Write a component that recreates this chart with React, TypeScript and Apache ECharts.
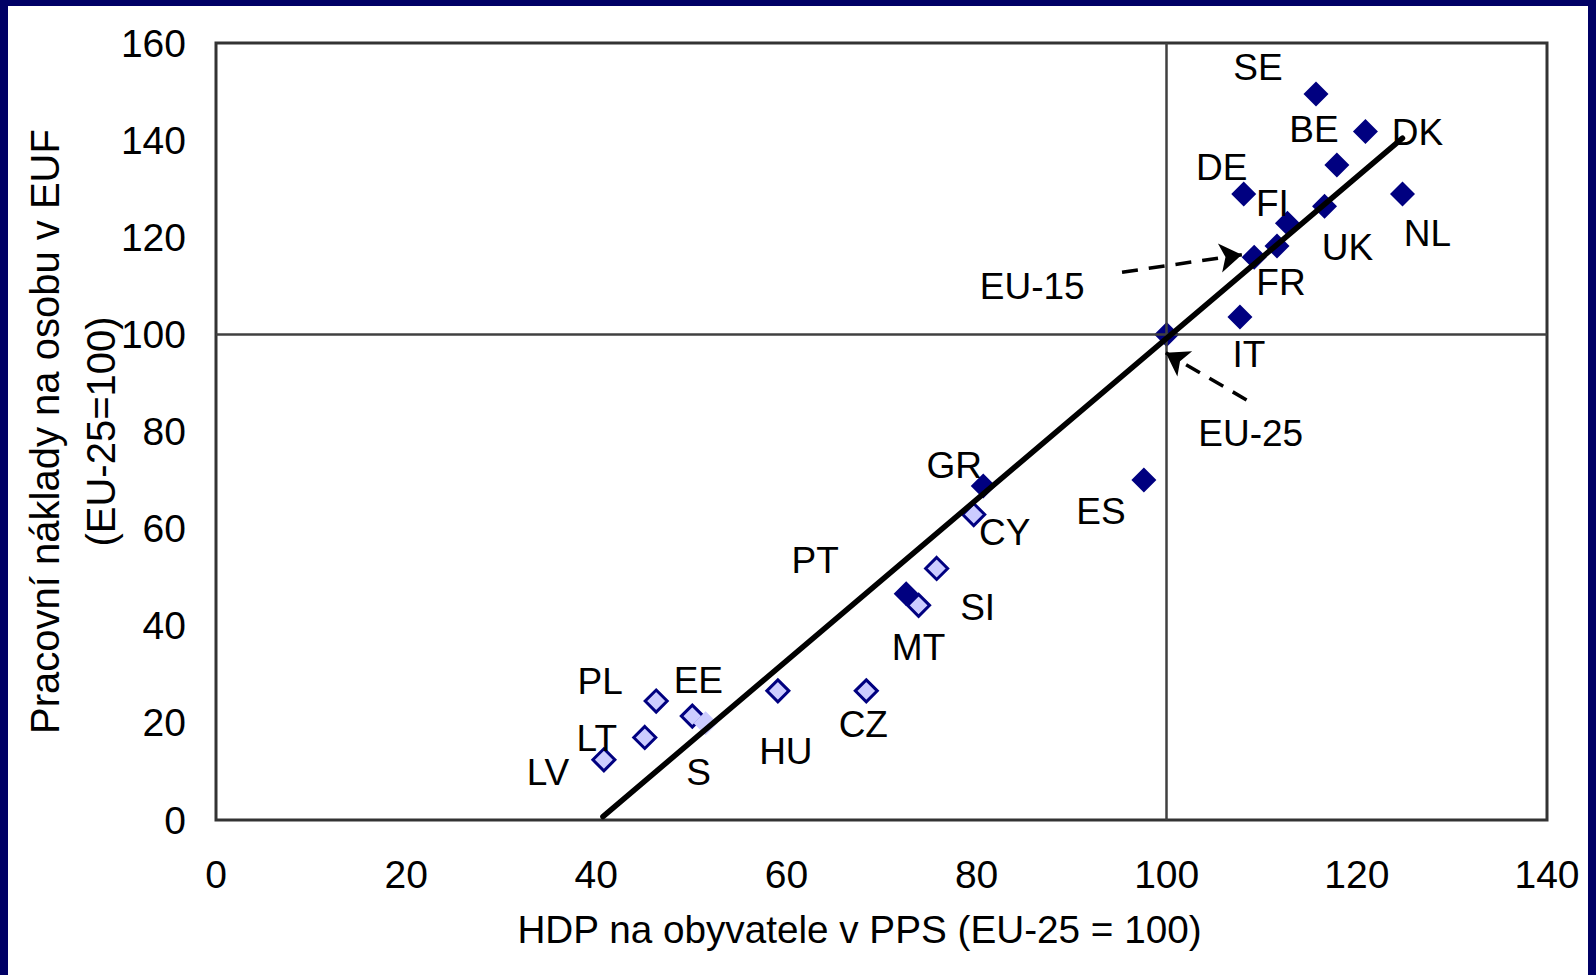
import React, { useEffect, useRef } from "react";
import * as echarts from "echarts";

const darkNames = ["SE", "DK", "BE", "NL", "DE", "UK", "FI", "FR", "EU-15", "IT", "EU-25", "ES", "GR", "PT"];
const darkX = [115.7, 120.9, 117.9, 124.8, 108.1, 116.6, 112.7, 111.6, 109.2, 107.7, 100, 97.6, 80.7, 72.6];
const darkY = [149.5, 141.8, 134.9, 128.9, 128.9, 126.4, 122.9, 118.2, 115.9, 103.6, 100, 70.0, 68.8, 46.6];

const lightNames = ["CY", "SI", "MT", "CZ", "HU", "EE", "PL", "LT", "LV"];
const lightX = [79.7, 75.8, 73.9, 68.4, 59.1, 50.1, 46.3, 45.1, 40.8];
const lightY = [62.9, 51.8, 44.2, 26.6, 26.6, 21.4, 24.5, 17.0, 12.4];

const paleNames = ["S"];
const paleX = [51.5];
const paleY = [19.9];

const trendX = [40.7, 124.8];
const trendY = [0.7, 140.4];

const arrowEU15 = [[95.3, 112.8], [107.9, 116.4]];
const arrowEU25 = [[108.4, 86.5], [99.9, 96.2]];

const xTicks = [0, 20, 40, 60, 80, 100, 120, 140];
const yTicks = [0, 20, 40, 60, 80, 100, 120, 140, 160];

// label offsets (styling, in pixels, relative to the marker)
const labelOffset: Record<string, [number, number]> = {
  SE: [-58, -26],
  DK: [52, 1],
  BE: [-23, -35],
  NL: [25, 39],
  DE: [-22, -27],
  UK: [23, 41],
  FI: [-15, -20],
  FR: [4, 37],
  "EU-15": [-222, 29],
  IT: [9, 38],
  "EU-25": [84, 99],
  ES: [-43, 31],
  GR: [-29, -20],
  PT: [-91, -33],
  CY: [31, 18],
  SI: [41, 39],
  MT: [0, 42],
  CZ: [-3, 34],
  HU: [8, 61],
  EE: [6, -36],
  PL: [-56, -20],
  LT: [-48, 1],
  LV: [-56, 13],
  S: [-7, 49],
};

const FONT = "'Liberation Sans', Arial, sans-serif";
const NAVY = "#000080";
const LAVENDER = "#CCCCFF";

function pts(names: string[], xs: number[], ys: number[]) {
  return names.map((n, i) => ({
    name: n,
    value: [xs[i], ys[i]],
    label: {
      show: true,
      formatter: n,
      position: "inside",
      offset: labelOffset[n] || [0, 0],
      color: "#000",
      fontSize: 37,
      fontFamily: FONT,
      align: "center",
      verticalAlign: "middle",
    },
  }));
}

export default function App() {
  const ref = useRef<HTMLDivElement>(null);
  useEffect(() => {
    if (!ref.current) return;
    const chart = echarts.init(ref.current, undefined, { renderer: "svg" });
    chart.setOption({
      animation: false,
      backgroundColor: "#fff",
      grid: {
        left: 216,
        right: 49,
        top: 43,
        bottom: 155,
        containLabel: false,
        outerBoundsMode: "none",
        show: true,
        borderColor: "#333",
        borderWidth: 3,
      },
      xAxis: {
        type: "value",
        min: xTicks[0],
        max: xTicks[xTicks.length - 1],
        interval: 20,
        name: "HDP na obyvatele v PPS (EU-25 = 100)",
        nameLocation: "middle",
        nameGap: 90,
        nameMoveOverlap: false,
        nameTextStyle: { fontSize: 38.7, fontFamily: FONT, color: "#000", padding: [0, 44, 0, 0] },
        axisLine: { show: false },
        axisTick: { show: false },
        splitLine: { show: false },
        axisLabel: { fontSize: 39, fontFamily: FONT, color: "#000", margin: 35 },
      },
      yAxis: {
        type: "value",
        min: yTicks[0],
        max: yTicks[yTicks.length - 1],
        interval: 20,
        name: "Pracovní náklady na osobu v EUF\n(EU-25=100)",
        nameLocation: "middle",
        nameGap: 87,
        nameMoveOverlap: false,
        nameTextStyle: { fontSize: 40, fontFamily: FONT, color: "#000", lineHeight: 56 },
        axisLine: { show: false },
        axisTick: { show: false },
        splitLine: { show: false },
        axisLabel: { fontSize: 39, fontFamily: FONT, color: "#000", margin: 30 },
      },
      series: [
        {
          type: "scatter",
          name: "EU-15",
          symbol: "diamond",
          symbolSize: 25,
          itemStyle: { color: NAVY, opacity: 1 },
          data: pts(darkNames, darkX, darkY),
          markLine: {
            silent: true,
            symbol: "none",
            label: { show: false },
            lineStyle: { color: "#404040", width: 2.5, type: "solid" },
            data: [{ xAxis: 100 }, { yAxis: 100 }],
          },
          z: 2,
        },
        {
          type: "scatter",
          name: "NMS",
          symbol: "diamond",
          symbolSize: 22,
          itemStyle: { color: LAVENDER, borderColor: NAVY, borderWidth: 3, opacity: 1 },
          data: pts(lightNames, lightX, lightY),
          z: 3,
        },
        {
          type: "scatter",
          name: "S",
          symbol: "diamond",
          symbolSize: 24,
          itemStyle: { color: LAVENDER, opacity: 1 },
          data: pts(paleNames, paleX, paleY),
          z: 4,
        },
        {
          type: "line",
          name: "trend",
          data: trendX.map((x, i) => [x, trendY[i]]),
          symbol: "none",
          lineStyle: { color: "#000", width: 5.5, cap: "round" },
          z: 5,
          markLine: {
            silent: true,
            symbol: ["none", "arrow"],
            symbolSize: 22,
            label: { show: false },
            itemStyle: { color: "#000" },
            lineStyle: { type: [16, 11], color: "#000", width: 3.5 },
            data: [
              [{ coord: arrowEU15[0] }, { coord: arrowEU15[1] }],
              [{ coord: arrowEU25[0] }, { coord: arrowEU25[1] }],
            ],
          },
        },
      ],
    });
    return () => chart.dispose();
  }, []);
  return (
    <div
      style={{
        position: "fixed",
        left: 0,
        top: 0,
        width: 1596,
        height: 975,
        background: "#fff",
      }}
    >
      <div ref={ref} style={{ position: "absolute", left: 0, top: 0, width: 1596, height: 975 }} />
      <div style={{ position: "absolute", left: 0, top: 0, width: 8, height: 975, background: "#000066" }} />
      <div style={{ position: "absolute", left: 0, top: 0, width: 1596, height: 6, background: "#000066" }} />
      <div style={{ position: "absolute", left: 1588, top: 0, width: 8, height: 975, background: "#000066" }} />
    </div>
  );
}
